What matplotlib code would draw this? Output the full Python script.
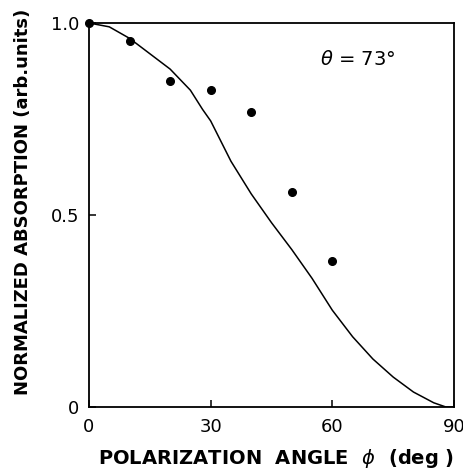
import matplotlib
matplotlib.use("Agg")
import matplotlib.pyplot as plt

# measured points
phi_meas = [0, 10, 20, 30, 40, 50, 60]
abs_meas = [1.0, 0.954, 0.849, 0.826, 0.767, 0.561, 0.381]

# calculated curve
phi_calc = [0, 5, 10, 15, 20, 25, 28, 30, 35, 40, 45, 50, 55, 60, 65, 70, 75, 80, 85, 88, 90]
abs_calc = [1.0, 0.99, 0.96, 0.92, 0.88, 0.825, 0.775, 0.745, 0.64, 0.555, 0.48,
            0.41, 0.335, 0.252, 0.183, 0.125, 0.078, 0.039, 0.011, 0.0, 0.0]

x_ticks = [0, 30, 60, 90]
y_ticks = [0, 0.5, 1.0]
y_tick_labels = ["0", "0.5", "1.0"]

fig = plt.figure(figsize=(4.64, 4.76), dpi=100)
ax = fig.add_axes([89 / 464, 69 / 476, 365 / 464, 384 / 476])

ax.plot(phi_calc, abs_calc, color="black", lw=1.1)
ax.plot(phi_meas, abs_meas, "o", color="black", ms=5.5, clip_on=False, zorder=3)

ax.set_xlim(0, 90)
ax.set_ylim(0, 1.0)
ax.set_xticks(x_ticks)
ax.set_yticks(y_ticks)
ax.set_yticklabels(y_tick_labels)
ax.tick_params(direction="in", length=5, width=1.1, labelsize=13, top=False, right=False)
ax.tick_params(axis="x", pad=8)
ax.tick_params(axis="y", pad=7)
for s in ax.spines.values():
    s.set_linewidth(1.3)

ax.set_xlabel(r"POLARIZATION  ANGLE  $\phi$  (deg )", fontsize=14, fontweight="bold")
ax.xaxis.set_label_coords(0.512, -0.105)
ax.set_ylabel("NORMALIZED ABSORPTION (arb.units)", fontsize=13, fontweight="bold")
ax.yaxis.set_label_coords(-0.155, 0.535)

ax.text(0.735, 0.905, r"$\theta$ = 73°", transform=ax.transAxes, fontsize=14,
        ha="center", va="center")

fig.savefig("out.png", dpi=100)
